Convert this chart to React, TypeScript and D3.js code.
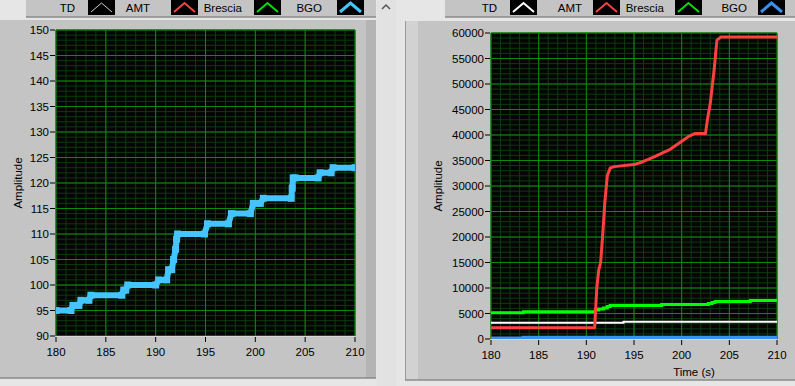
import React from "react";
import * as d3 from "d3";

// ---------- data ----------
const legendLabels = ["TD", "AMT", "Brescia", "BGO"];
const xTickValues = [180, 185, 190, 195, 200, 205, 210];
const leftYTickValues = [90, 95, 100, 105, 110, 115, 120, 125, 130, 135, 140, 145, 150];
const rightYTickValues = [0, 5000, 10000, 15000, 20000, 25000, 30000, 35000, 40000, 45000, 50000, 55000, 60000];

// left chart: BGO amplitude
const bgoLeftTime = [180, 181.5, 181.7, 182.3, 182.5, 183.3, 183.5, 186.6, 186.8, 187.0, 187.2, 190.0, 190.3, 191.1, 191.3, 191.6, 191.8, 192.0, 192.1, 192.2, 194.9, 195.2, 197.3, 197.6, 199.5, 199.8, 200.5, 200.8, 203.6, 203.7, 203.8, 204.0, 206.3, 206.5, 207.6, 207.8, 210];
const bgoLeftValues = [95, 95, 96, 96, 97, 97, 98, 98, 99, 99, 100, 100, 101, 101, 103, 103, 105, 107, 109, 110, 110, 112, 112, 114, 114, 116, 116, 117, 117, 119, 121, 121, 121, 122, 122, 123, 123];

// right chart
const tdTime = [180, 193.9, 210];
const tdValues = [3200, 3400, 3400];
const amtTime = [180, 190.87, 190.95, 191.1, 191.3, 191.5, 191.7, 191.95, 192.2, 192.5, 192.9, 195.0, 195.7, 197.1, 198.8, 200.2, 200.8, 201.4, 202.5, 202.7, 203.0, 203.4, 203.7, 204.1, 210];
const amtValues = [2200, 2200, 5000, 10000, 13500, 15000, 20000, 27000, 32000, 33500, 33800, 34200, 34600, 35700, 37200, 39000, 39800, 40300, 40300, 43000, 46200, 52700, 58600, 59200, 59200];
const bresciaTime = [180, 183.4, 190.95, 191.3, 191.8, 192.2, 192.5, 197.9, 202.8, 203.2, 203.5, 207.2, 210];
const bresciaValues = [5150, 5350, 5700, 5900, 6100, 6350, 6550, 6750, 6950, 7150, 7350, 7550, 7550];
const bgoRightTime = [180, 183.4, 210];
const bgoRightValues = [100, 250, 250];

const FONT = "'Liberation Sans', Arial, sans-serif";
const PANEL = "#c4c4c4";
const MINOR = "#0c3c0c";
const MAJOR = "#0b8a0b";

type Pt = [number, number];
const zip = (a: number[], b: number[]): Pt[] => a.map((t, i) => [t, b[i]]);

function Legend({ textEnds, swatchXs, colors, widths }: { textEnds: number[]; swatchXs: number[]; colors: string[]; widths: number[] }) {
  return (
    <g>
      {legendLabels.map((lab, i) => (
        <g key={lab}>
          <text x={textEnds[i]} y={12} textAnchor="end" fontFamily={FONT} fontSize={11.5} fill="#000">{lab}</text>
          <rect x={swatchXs[i]} y={0} width={27} height={15} fill="#000" />
          <path d={`M${swatchXs[i] + 3},12 L${swatchXs[i] + 13.5},3 L${swatchXs[i] + 24},12`} fill="none" stroke={colors[i]} strokeWidth={widths[i]} />
        </g>
      ))}
    </g>
  );
}

function Grid({ x, y, xMinor, xMajor, yMinor, yMajor }: any) {
  const [x0, x1] = x.range();
  const [y0, y1] = y.range();
  return (
    <g>
      {xMinor.map((v: number) => <line key={"xm" + v} x1={x(v)} x2={x(v)} y1={y0} y2={y1} stroke={MINOR} strokeWidth={1} />)}
      {yMinor.map((v: number) => <line key={"ym" + v} x1={x0} x2={x1} y1={y(v)} y2={y(v)} stroke={MINOR} strokeWidth={1} />)}
      {xMajor.map((v: number) => <line key={"xM" + v} x1={x(v)} x2={x(v)} y1={y0} y2={y1} stroke={MAJOR} strokeWidth={1} />)}
      {yMajor.map((v: number) => <line key={"yM" + v} x1={x0} x2={x1} y1={y(v)} y2={y(v)} stroke={MAJOR} strokeWidth={1} />)}
    </g>
  );
}

function Axes({ x, y, yTicks, fmt, xLabelY }: any) {
  const [x0] = x.range();
  const [yb] = y.range();
  return (
    <g fontFamily={FONT} fontSize={11.5} fill="#000">
      {yTicks.map((v: number) => (
        <g key={"yt" + v}>
          <line x1={x0 - 6} x2={x0 - 1} y1={y(v)} y2={y(v)} stroke="#000" />
          <text x={x0 - 7} y={y(v) + 4} textAnchor="end">{fmt(v)}</text>
        </g>
      ))}
      {xTickValues.map((v) => (
        <g key={"xt" + v}>
          <line x1={x(v)} x2={x(v)} y1={yb + 1} y2={yb + 6} stroke="#000" />
          <text x={x(v)} y={xLabelY} textAnchor="middle">{v}</text>
        </g>
      ))}
    </g>
  );
}

export default function App() {
  // left chart scales
  const xL = d3.scaleLinear().domain([180, 210]).range([56, 355]);
  const yL = d3.scaleLinear().domain([90, 150]).range([336, 30]);
  // right chart scales
  const xR = d3.scaleLinear().domain([180, 210]).range([491, 777]);
  const yR = d3.scaleLinear().domain([0, 60000]).range([339, 33]);

  const lineL = d3.line<Pt>().x((d) => xL(d[0])).y((d) => yL(d[1]));
  const lineR = d3.line<Pt>().x((d) => xR(d[0])).y((d) => yR(d[1]));
  const stepR = d3.line<Pt>().x((d) => xR(d[0])).y((d) => yR(d[1])).curve(d3.curveStepAfter);

  const bgoLeft = zip(bgoLeftTime, bgoLeftValues);

  return (
    <svg width={795} height={386} viewBox="0 0 795 386" style={{ position: "absolute", left: 0, top: 0, display: "block" }}>
      <defs>
        <clipPath id="clipL"><rect x={56} y={30} width={299} height={306} /></clipPath>
        <clipPath id="clipR"><rect x={491} y={33} width={286} height={306} /></clipPath>
      </defs>
      <rect x={0} y={0} width={795} height={386} fill="#e6e6e6" />

      {/* left panel */}
      <rect x={0} y={20} width={376} height={358} fill={PANEL} />
      <rect x={366} y={20} width={10} height={358} fill="#b4b4b4" />
      <line x1={0} x2={376} y1={378} y2={378} stroke="#8a8a8a" strokeWidth={1.5} />
      <rect x={26} y={0} width={350} height={17} fill={PANEL} />
      <line x1={26} x2={376} y1={17} y2={17} stroke="#8a8a8a" strokeWidth={1.5} />
      {/* scrollbar */}
      <rect x={377} y={0} width={19} height={386} fill="#e2e2e2" />
      <path d="M382,9 L386,5 L390,9" fill="none" stroke="#555" strokeWidth={1.5} />

      {/* right panel */}
      <rect x={405} y={21} width={390} height={359} fill={PANEL} />
      <rect x={405} y={21} width={13} height={359} fill="#d2d2d2" />
      <line x1={405.5} x2={405.5} y1={21} y2={380} stroke="#9a9a9a" />
      <line x1={405} x2={795} y1={380} y2={380} stroke="#8a8a8a" strokeWidth={1.5} />
      <rect x={445} y={0} width={350} height={17} fill={PANEL} />
      <line x1={445} x2={795} y1={17} y2={17} stroke="#8a8a8a" strokeWidth={1.5} />

      <Legend textEnds={[75, 150, 242, 322]} swatchXs={[88, 171, 254, 337]} colors={["#d0d0d0", "#ff4040", "#00e000", "#45c5ff"]} widths={[1, 2, 2, 3]} />
      <Legend textEnds={[497, 582, 664, 747]} swatchXs={[510, 593, 675, 758]} colors={["#ffffff", "#ff4040", "#00e000", "#3a90f0"]} widths={[2, 2, 2, 3]} />

      {/* left plot */}
      <rect x={56} y={30} width={299} height={306} fill="#050505" />
      <Grid x={xL} y={yL} xMinor={d3.range(180, 211, 1)} xMajor={d3.range(180, 211, 5)} yMinor={d3.range(90, 151, 1)} yMajor={d3.range(90, 151, 5)} />
      <g clipPath="url(#clipL)">
        <path d={lineL(bgoLeft) || ""} fill="none" stroke="#45c5ff" strokeWidth={6} strokeLinejoin="round" strokeLinecap="square" />
        {bgoLeft.map((d, i) => <rect key={i} x={xL(d[0]) - 3.5} y={yL(d[1]) - 3.5} width={7} height={7} fill="#45c5ff" />)}
      </g>
      <line x1={56} x2={355} y1={336.5} y2={336.5} stroke="#d8d8d8" />
      <Axes x={xL} y={yL} yTicks={leftYTickValues} fmt={(v: number) => String(v)} xLabelY={356} />
      <text transform="translate(22,183) rotate(-90)" textAnchor="middle" fontFamily={FONT} fontSize={11.5} fill="#000">Amplitude</text>

      {/* right plot */}
      <rect x={491} y={33} width={286} height={306} fill="#050505" />
      <Grid x={xR} y={yR} xMinor={d3.range(180, 211, 1)} xMajor={d3.range(180, 211, 5)} yMinor={d3.range(0, 60001, 1000)} yMajor={d3.range(0, 60001, 5000)} />
      <g clipPath="url(#clipR)">
        <path d={stepR(zip(bgoRightTime, bgoRightValues)) || ""} fill="none" stroke="#3a90f0" strokeWidth={4} />
        <path d={stepR(zip(tdTime, tdValues)) || ""} fill="none" stroke="#ffffff" strokeWidth={2} />
        <path d={stepR(zip(bresciaTime, bresciaValues)) || ""} fill="none" stroke="#00ff00" strokeWidth={3} />
        <path d={lineR(zip(amtTime, amtValues)) || ""} fill="none" stroke="#ff4040" strokeWidth={3} strokeLinejoin="round" />
      </g>
      <line x1={491} x2={777} y1={339.5} y2={339.5} stroke="#d8d8d8" />
      <Axes x={xR} y={yR} yTicks={rightYTickValues} fmt={(v: number) => String(v)} xLabelY={359} />
      <text transform="translate(442,186) rotate(-90)" textAnchor="middle" fontFamily={FONT} fontSize={11.5} fill="#000">Amplitude</text>
      <text x={694} y={376} textAnchor="middle" fontFamily={FONT} fontSize={11.5} fill="#000">Time (s)</text>
    </svg>
  );
}
